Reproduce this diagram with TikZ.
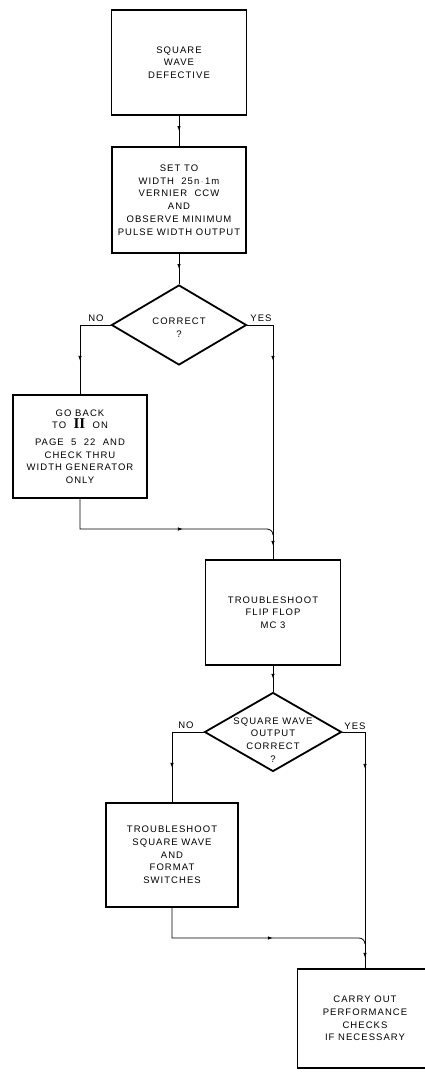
\documentclass[tikz,border=0pt]{standalone}
\usepackage{fontspec}
\setmainfont{Liberation Sans}[LetterSpace=11]
\newfontfamily\romn{Liberation Serif}
\usetikzlibrary{shapes.geometric,arrows.meta,decorations.markings}
\tikzset{
  box/.style={draw, line width=1.8pt, rectangle, inner sep=0pt, align=center,
    font=\fontsize{9.5}{12.7}\selectfont},
  dia/.style={draw, line width=1.8pt, diamond, inner sep=0pt},
  txt/.style={inner sep=0pt, align=center, font=\fontsize{9.5}{12.7}\selectfont},
  conn/.style={line width=0.8pt},
  tipat/.style={postaction={decorate,decoration={markings,
    mark=at position #1 with {\arrow{Latex[length=5pt,width=3.5pt]}}}}}
}
\begin{document}
\begin{tikzpicture}[x=1pt,y=-1pt]
\useasboundingbox (0,0) rectangle (425,1074);
\clip (0,0) rectangle (425,1074);
\fill[white] (0,0) rectangle (425,1074);

\node[box, minimum width=135, minimum height=105] (b1) at (179,62.5) {SQUARE\\WAVE\\DEFECTIVE};
\node[box, minimum width=134, minimum height=106] (b2) at (179,200) {SET TO\\WIDTH\ \ 25n\,$\cdot$\,1m\\VERNIER\ \ CCW\\AND\\OBSERVE MINIMUM\\PULSE WIDTH OUTPUT};
\node[dia, minimum width=135, minimum height=80] (d1) at (179,325) {};
\node[txt] (d1t) at (179,328) {CORRECT\\?};
\node[txt] (no1) at (96,318) {NO};
\node[txt] (yes1) at (261,318) {YES};

\node[box, minimum width=134, minimum height=103] (b3) at (80,446.5) {GO BACK\\TO\ \ {\romn\bfseries\fontsize{15}{15}\selectfont II}\ \ ON\\[4pt]PAGE\ \ 5\ \ 22\ \ AND\\CHECK THRU\\WIDTH GENERATOR\\ONLY};

\node[box, minimum width=135, minimum height=105] (b4) at (273,612.5) {TROUBLESHOOT\\FLIP FLOP\\MC 3};
\node[dia, minimum width=137, minimum height=79] (d2) at (273,732) {};
\node[txt] (d2t) at (273,740) {SQUARE WAVE\\OUTPUT\\CORRECT\\?};
\node[txt] (no2) at (186,725) {NO};
\node[txt] (yes2) at (355,726) {YES};

\node[box, minimum width=132, minimum height=104] (b5) at (172,855) {TROUBLESHOOT\\SQUARE WAVE\\AND\\FORMAT\\SWITCHES};
\node[box, minimum width=135, minimum height=99] (b6) at (365,1018.5) {CARRY OUT\\PERFORMANCE\\CHECKS\\IF NECESSARY};

\coordinate (j1) at (273,529);
\coordinate (j2) at (365,938);

\draw[conn, tipat=0.5] (b1.south) -- (b2.north);
\draw[conn, tipat=0.5] (b2.south) -- (d1.north);
\draw[conn, tipat=66.5pt] (d1.west) -| (b3.north);
\draw[conn, tipat=61.5pt, tipat=246.5pt] (d1.east) -| (b4.north);
\draw[conn, tipat=133pt] (b3.south) |- ([xshift=-6pt]j1) to[out=0,in=90] ([yshift=-6pt]j1);

\draw[conn, tipat=0.5] (b4.south) -- (d2.north);
\draw[conn, tipat=67.5pt] (d2.west) -| (b5.north);
\draw[conn, tipat=59.5pt, tipat=248.5pt] (d2.east) -| (b6.north);
\draw[conn, tipat=131pt] (b5.south) |- ([xshift=-6pt]j2) to[out=0,in=90] ([yshift=-6pt]j2);
\end{tikzpicture}
\end{document}
